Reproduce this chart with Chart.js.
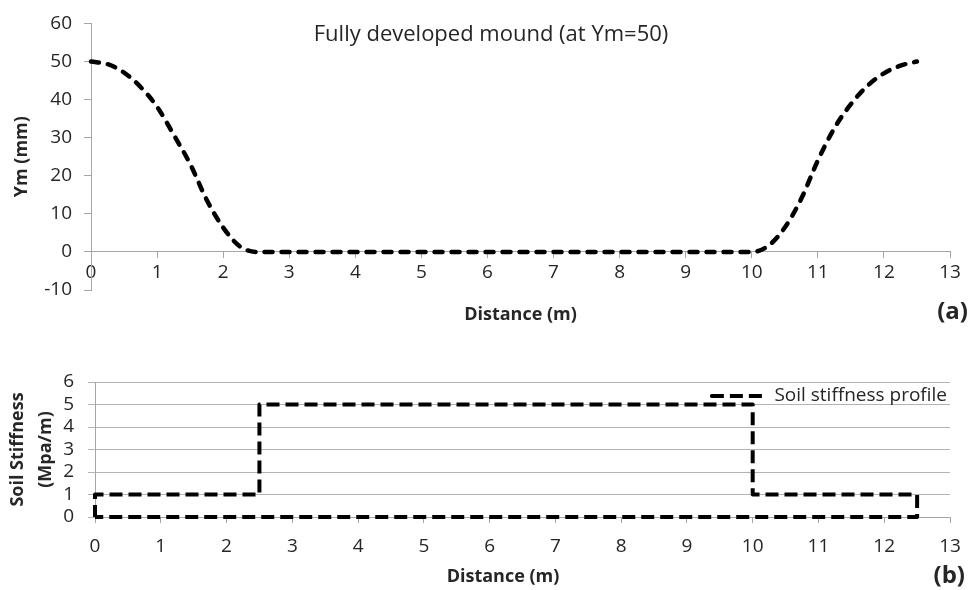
<!DOCTYPE html>
<html>
<head>
<meta charset="utf-8">
<script src="https://cdn.jsdelivr.net/npm/chart.js@4/dist/chart.umd.min.js"></script>
<style>
  html, body { margin: 0; padding: 0; background: #ffffff; }
  #wrap { position: relative; width: 975px; height: 590px; }
  #moundBox { position: absolute; left: 0; top: 0; width: 975px; height: 335px; }
  #stiffBox { position: absolute; left: 0; top: 335px; width: 975px; height: 255px; }
  canvas { display: block; }
</style>
</head>
<body>
<div id="wrap">
  <div id="moundBox"><canvas id="mound" width="975" height="335"></canvas></div>
  <div id="stiffBox"><canvas id="stiff" width="975" height="255"></canvas></div>
</div>
<script>
// Panel (a): mound shape Ym (mm) along the distance (m)
const moundDistance = [0, 0.25, 0.5, 0.75, 1.0, 1.25, 1.5, 1.75, 2.0, 2.25, 2.5,
                       10.0, 10.25, 10.5, 10.75, 11.0, 11.25, 11.5, 11.75, 12.0, 12.25, 12.5];
const moundYm = [50, 49.3, 47.1, 43.3, 38.1, 30.8, 23.1, 13.7, 6.4, 1.5, 0,
                 0, 1.6, 6.4, 14.0, 24.0, 32.5, 38.8, 43.6, 46.9, 48.9, 50];

// Panel (b): soil stiffness profile (closed outline)
const profileDistance = [0, 0, 2.5, 2.5, 10, 10, 12.5, 12.5, 0];
const profileStiffness = [0, 1, 1, 5, 5, 1, 1, 0, 0];

// Axis ranges
const distanceRange = [0, 13];
const ymRange = [-10, 60];
const stiffRange = [0, 6];

// Texts
const moundTitle = 'Fully developed mound (at Ym=50)';
const distanceTitle = 'Distance (m)';
const ymTitle = 'Ym (mm)';
const stiffTitle = ['Soil Stiffness', '(Mpa/m)'];
const profileLabel = 'Soil stiffness profile';
const panelA = '(a)';
const panelB = '(b)';

Chart.defaults.font.family = "'Open Sans', 'Noto Sans', sans-serif";
Chart.defaults.color = '#262626';
Chart.defaults.animation = false;

const AXIS_GREY = '#a6a6a6';
const GRID_GREY = '#b3b3b3';
const TICK_SIZE = 19;
const toPoints = (xs, ys) => xs.map((x, i) => ({ x: x, y: ys[i] }));

// Zero-height padding so a title box takes no room in the layout
const flatPad = (size, top) => ({ top: top, bottom: -(size * 1.2 + top) });

// Keeps the legend inside the plot, top-right corner
const legendInPlot = {
  id: 'legendInPlot',
  afterLayout(chart) {
    const lg = chart.legend;
    if (!lg) return;
    const h = lg.height;
    lg.top = chart.chartArea.top - 5.5;
    lg.bottom = lg.top + h;
    lg.right = chart.chartArea.right + 7;
  }
};

new Chart(document.getElementById('mound'), {
  type: 'line',
  data: {
    datasets: [{
      label: ymTitle,
      data: toPoints(moundDistance, moundYm),
      xAxisID: 'x',
      yAxisID: 'y',
      borderColor: '#000000',
      borderWidth: 4.5,
      borderDash: [8, 9],
      borderCapStyle: 'round',
      borderJoinStyle: 'round',
      pointRadius: 0,
      cubicInterpolationMode: 'monotone',
      clip: false,
      fill: false
    }]
  },
  options: {
    responsive: false,
    devicePixelRatio: 1,
    layout: { padding: { left: 14, right: 7, top: 18, bottom: 45 } },
    plugins: {
      legend: { display: false },
      tooltip: { enabled: false },
      title: {
        display: true, text: moundTitle, position: 'top', align: 'center',
        color: '#262626', font: { size: 22, weight: 'normal' }, padding: flatPad(22, -1.5)
      },
      subtitle: {
        display: true, text: panelA, position: 'bottom', align: 'end',
        color: '#262626', font: { size: 24, weight: 'bold' }, padding: flatPad(24, 7.6)
      }
    },
    scales: {
      x: {
        type: 'linear', position: { y: 0 },
        min: distanceRange[0], max: distanceRange[1],
        ticks: { stepSize: 1, autoSkip: false, maxRotation: 0, padding: 3, font: { size: TICK_SIZE } },
        grid: { drawOnChartArea: false, drawTicks: true, tickLength: 6, color: AXIS_GREY },
        border: { display: true, color: AXIS_GREY, width: 1 },
        title: { display: true, text: distanceTitle, font: { size: 18, weight: 'bold' }, padding: { top: 0, bottom: 0 } },
        afterFit(s) { s.height = 74; }
      },
      y: {
        type: 'linear', position: 'left',
        min: ymRange[0], max: ymRange[1],
        ticks: { stepSize: 10, autoSkip: false, padding: 12, font: { size: TICK_SIZE } },
        grid: { drawOnChartArea: false, drawTicks: true, tickLength: 7, color: AXIS_GREY },
        border: { display: true, color: AXIS_GREY, width: 1 },
        title: { display: true, text: ymTitle, font: { size: 18, weight: 'bold' }, padding: { top: -3, bottom: 0 } },
        afterFit(s) { s.width = 77; }
      },
      yEdge: {
        type: 'linear', position: 'right', display: true,
        grid: { display: false }, border: { display: false }, ticks: { display: false },
        afterFit(s) { s.width = 18; }
      }
    }
  }
});

new Chart(document.getElementById('stiff'), {
  type: 'line',
  data: {
    datasets: [{
      label: profileLabel,
      data: toPoints(profileDistance, profileStiffness),
      xAxisID: 'x',
      yAxisID: 'y',
      borderColor: '#000000',
      backgroundColor: 'rgba(0,0,0,0)',
      borderWidth: 4,
      borderDash: [13, 6],
      borderDashOffset: 1,
      borderCapStyle: 'butt',
      borderJoinStyle: 'round',
      pointRadius: 0,
      tension: 0,
      clip: false,
      fill: false
    }]
  },
  plugins: [legendInPlot],
  options: {
    responsive: false,
    devicePixelRatio: 1,
    layout: { padding: { left: 41, right: 10, top: 8, bottom: 33 } },
    plugins: {
      tooltip: { enabled: false },
      legend: {
        display: true, position: 'top', align: 'end',
        labels: {
          usePointStyle: false, boxWidth: 53, boxHeight: 0,
          padding: 10, color: '#262626', font: { size: 19 }
        }
      },
      title: {
        display: true, text: distanceTitle, position: 'bottom', align: 'center',
        color: '#262626', font: { size: 18, weight: 'bold' }, padding: flatPad(18, 9.2)
      },
      subtitle: {
        display: true, text: panelB, position: 'bottom', align: 'end',
        color: '#262626', font: { size: 24, weight: 'bold' }, padding: flatPad(24, 4.6)
      }
    },
    scales: {
      x: {
        type: 'linear', position: 'bottom',
        min: distanceRange[0], max: distanceRange[1],
        ticks: { stepSize: 1, autoSkip: false, maxRotation: 0, padding: 12.5, font: { size: TICK_SIZE } },
        grid: { drawOnChartArea: false, drawTicks: true, tickLength: 6, color: AXIS_GREY },
        border: { display: true, color: AXIS_GREY, width: 1 },
        afterFit(s) { s.height = 40; }
      },
      y: {
        type: 'linear', position: 'left',
        min: stiffRange[0], max: stiffRange[1],
        ticks: { stepSize: 1, autoSkip: false, padding: 14, font: { size: TICK_SIZE } },
        grid: { drawOnChartArea: true, drawTicks: true, tickLength: 7, color: GRID_GREY },
        border: { display: true, color: AXIS_GREY, width: 1 },
        title: {
          display: true, text: stiffTitle,
          font: { size: 18, weight: 'bold', lineHeight: 1.6 }, padding: { top: -38, bottom: 0 }
        },
        afterFit(s) { s.width = 54; }
      },
      yEdge: {
        type: 'linear', position: 'right', display: true,
        grid: { display: false }, border: { display: false }, ticks: { display: false },
        afterFit(s) { s.width = 15; }
      }
    }
  }
});
</script>
</body>
</html>
